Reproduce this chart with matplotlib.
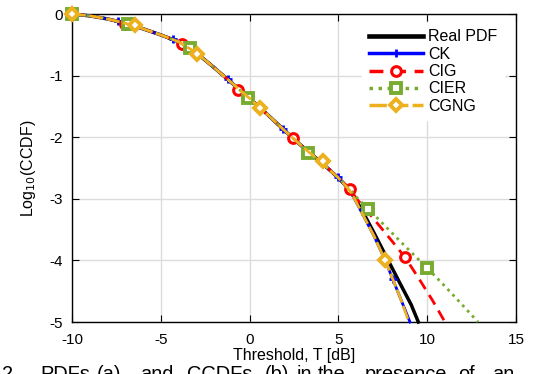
import matplotlib
matplotlib.use('Agg')
import matplotlib.pyplot as plt
from matplotlib.lines import Line2D

plt.rcParams['font.family'] = ['Liberation Sans', 'DejaVu Sans']
plt.rcParams['axes.unicode_minus'] = False

# shared part of all curves (Threshold dB, log10 CCDF)
x_common = [-10, -9, -8, -7, -6, -5, -4, -3, -2, -1, 0, 1, 2, 3, 4, 5]
y_common = [0, -0.03, -0.08, -0.15, -0.24, -0.34, -0.45, -0.63, -0.87, -1.12,
            -1.37, -1.63, -1.90, -2.16, -2.40, -2.66]

# tails where the curves split
x_real = [5.65, 6, 6.5, 7, 7.5, 8, 8.5, 9.1, 9.5]
y_real = [-2.86, -3.02, -3.28, -3.55, -3.83, -4.11, -4.39, -4.72, -5.0]
x_ck = [5.65, 6, 7, 7.62, 8, 8.5, 9.03]
y_ck = [-2.87, -3.05, -3.60, -3.99, -4.26, -4.62, -5.0]
x_cig = [5.65, 6, 7, 8, 8.75, 9.5, 10.3, 11.0]
y_cig = [-2.84, -2.99, -3.33, -3.68, -3.95, -4.28, -4.65, -5.0]
x_cier = [5.65, 6, 6.67, 8, 9, 9.99, 11, 12, 12.86]
y_cier = [-2.85, -2.97, -3.16, -3.55, -3.84, -4.12, -4.42, -4.73, -5.0]
x_cgng = [5.65, 6, 7, 7.62, 8, 8.5, 8.97]
y_cgng = [-2.87, -3.05, -3.60, -3.99, -4.26, -4.62, -5.0]

# marker points
mx_ck = [-10, -7.43, -4.33, -1.23, 1.87, 4.97, 8.07]
my_ck = [0, -0.11, -0.41, -1.06, -1.86, -2.65, -4.30]
mx_cig = [-10, -7.0, -3.8, -0.65, 2.42, 5.65, 8.75]
my_cig = [0, -0.16, -0.49, -1.23, -2.01, -2.84, -3.95]
mx_cier = [-10, -6.85, -3.36, -0.09, 3.31, 6.67, 9.99]
my_cier = [0, -0.16, -0.55, -1.37, -2.25, -3.16, -4.12]
mx_cgng = [-10, -6.45, -2.96, 0.59, 4.13, 7.62]
my_cgng = [0, -0.18, -0.65, -1.52, -2.39, -3.99]

labels = ['Real PDF', 'CK', 'CIG', 'CIER', 'CGNG']

# caption underneath (cut off by the picture edge)
caption_words = ['2.', 'PDFs', '(a)', 'and', 'CCDFs', '(b)', 'in', 'the',
                 'presence', 'of', 'an']
caption_px = [2, 40, 97, 140, 187, 265, 297, 318, 365, 458, 492]

blue = (0, 0, 1)
red = (1, 0, 0)
green = (0.466, 0.674, 0.188)
orange = (0.929, 0.694, 0.125)

fig = plt.figure(figsize=(5.35, 3.74), dpi=100)
ax = fig.add_axes([72 / 535, 1 - 322 / 374, 444 / 535, 308 / 374])

styles = [
    dict(color='k', lw=2.5, ls='-', marker=None),
    dict(color=blue, lw=2, ls='-', marker='+', ms=6, mew=2, mfc='none'),
    dict(color=red, lw=2, ls=(0, (4, 2.5)), marker='o', ms=7, mew=2.2, mfc='white'),
    dict(color=green, lw=2, ls=(0, (1, 1.6)), marker='s', ms=6.5, mew=2.8, mfc='white'),
    dict(color=orange, lw=2, ls=(0, (5, 1.2)), marker='D', ms=6.5, mew=2.8, mfc='white'),
]

tails = [(x_real, y_real), (x_ck, y_ck), (x_cig, y_cig), (x_cier, y_cier), (x_cgng, y_cgng)]
marks = [None, (mx_ck, my_ck), (mx_cig, my_cig), (mx_cier, my_cier), (mx_cgng, my_cgng)]

z = 3
for st, (xt, yt), mk in zip(styles, tails, marks):
    ax.plot(x_common + xt, y_common + yt, color=st['color'], lw=st['lw'],
            ls=st['ls'], zorder=z, clip_on=False)
    if mk is not None:
        ax.plot(mk[0], mk[1], ls='none', marker=st['marker'], ms=st['ms'],
                mew=st['mew'], mec=st['color'], mfc=st['mfc'],
                zorder=z + 0.5, clip_on=False)
    z += 1

ax.set_xlim(-10, 15)
ax.set_ylim(-5, 0)
ax.set_xticks([-10, -5, 0, 5, 10, 15])
ax.set_yticks([-5, -4, -3, -2, -1, 0])
ax.grid(True, color='#dcdcdc', lw=1)
ax.set_axisbelow(True)
ax.tick_params(direction='in', top=True, right=True, length=5, labelsize=11)
ax.tick_params(axis='x', pad=8)
ax.tick_params(axis='y', pad=6.5)
for s in ax.spines.values():
    s.set_linewidth(1)
ax.set_xlabel('Threshold, T [dB]', fontsize=11.5, labelpad=0.5)
ax.set_ylabel('Log$_{10}$(CCDF)', fontsize=11.5, labelpad=8.5)

handles = []
for st in styles:
    if st['marker'] is None:
        handles.append(Line2D([], [], color=st['color'], lw=st['lw'] + 0.8, ls=st['ls']))
    else:
        handles.append(Line2D([], [], color=st['color'], lw=st['lw'] + 0.5, ls=st['ls'],
                              marker=st['marker'], ms=st['ms'], mew=st['mew'],
                              mec=st['color'], mfc=st['mfc']))
leg = ax.legend(handles, labels, loc='upper right', fontsize=11.5, frameon=True,
                handlelength=3.4, handletextpad=0.3, labelspacing=0.15,
                borderaxespad=0.5, fancybox=False, bbox_to_anchor=(0.99, 0.997))
leg.get_frame().set_edgecolor('white')
leg.get_frame().set_alpha(1)
leg.set_zorder(20)

for word, px in zip(caption_words, caption_px):
    fig.text(px / 535, -5.5 / 374, word, fontsize=14.4, va='baseline', ha='left')

fig.savefig('out.png', dpi=100)
